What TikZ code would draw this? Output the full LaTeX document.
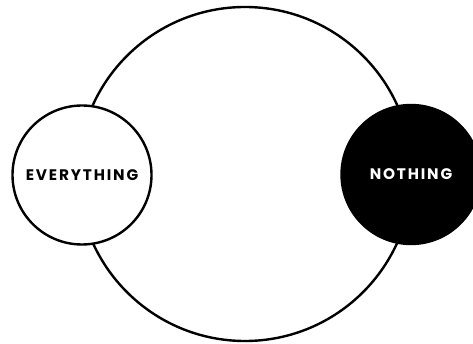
\documentclass[tikz,border=0pt]{standalone}
\usepackage{fontspec}
\usepackage{tikz}
\usetikzlibrary{positioning}
\newfontfamily\labelfont[LetterSpace=12]{Poppins}
\tikzset{
    bigring/.style={circle, draw=black, line width=2.4pt, fill=white,
                    inner sep=0pt},
    endcirc/.style={circle, draw=black, line width=2.4pt, inner sep=0pt,
                    minimum size=139pt, font=\labelfont\bfseries\fontsize{15.3}{17}\selectfont},
    emptycirc/.style={endcirc, fill=white, text=black},
    fullcirc/.style={endcirc, fill=black, text=white},
}

\begin{document}
\begin{tikzpicture}[x=1pt, y=-1pt]
    \useasboundingbox (0,0) rectangle (473,344);
    \node[bigring, minimum size=334pt] (whole) at (245,174) {};
    \node[emptycirc] (every) at (82,175) {EVERYTHING};
    \node[fullcirc] (nothing) at (411,174.5) {NOTHING};
\end{tikzpicture}
\end{document}
